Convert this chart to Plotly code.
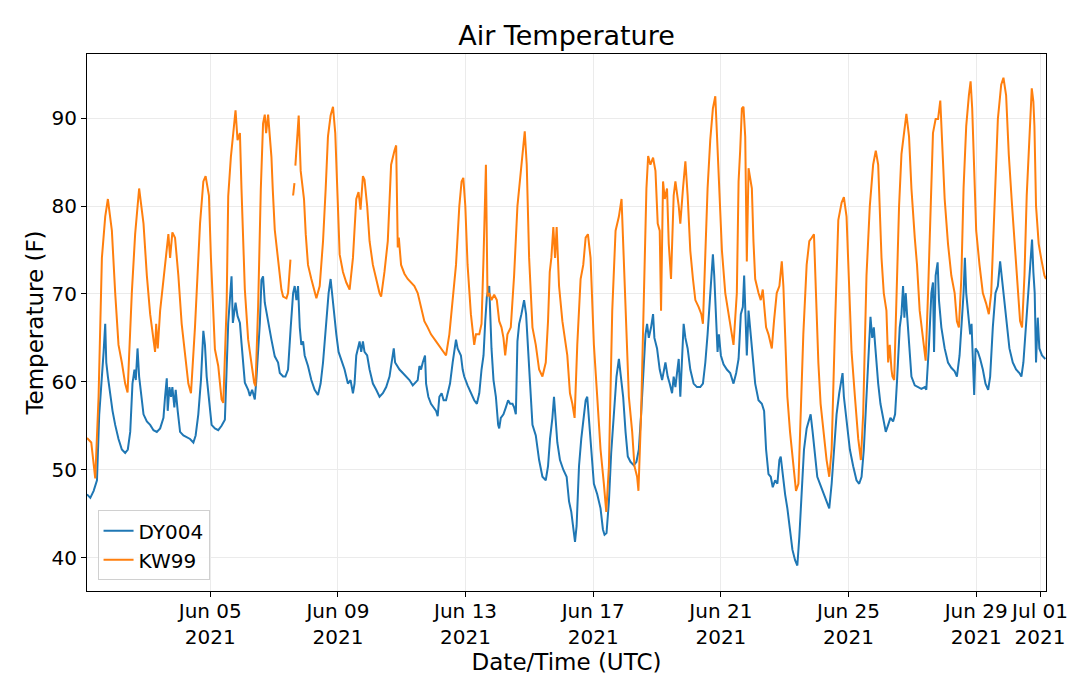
import pandas as pd
import plotly.graph_objects as go

# hours after 2021-06-01 00:00 UTC, temperature in F
dy004_hours = [
    3.3, 5.8, 8.3, 10.8, 12.5, 14.5, 15.8, 17, 17.8, 19, 20.8, 22.5, 24.5, 27, 29.5, 32, 34, 35.8, 37.5, 39,
    40, 41.3, 42.5, 44, 45.8, 48.3, 50.8, 53.3, 55.8, 58.3, 60.8, 62, 63.3, 64, 65.3, 66.5, 67.5, 69, 70, 71.5,
    73.3, 75.8, 78.3, 80.8, 83.3, 85, 87, 89, 90.8, 92, 93.3, 95, 97, 99.5, 102, 104.5, 107, 109.5, 112, 113,
    115, 116.5, 118.3, 119.5, 122, 124.5, 125.8, 127.5, 129.5, 130.5, 133.3, 134.5, 135.7, 137, 139.5, 142, 144.5, 147, 148.3, 150.8,
    152.5, 154.5, 156.5, 158.3, 159.5, 160.8, 162, 163.3, 164.5, 165.8, 167, 169.5, 172, 174.5, 177, 179, 180.8, 183.3, 185, 186.5,
    187.5, 189, 190.8, 192.5, 194.5, 197, 199.5, 201.5, 203.3, 204.5, 205.8, 207, 208.3, 209.5, 210.8, 212, 214, 215.8, 218.3, 220.8,
    223.3, 225.8, 228.3, 230.8, 232.5, 234, 235, 236.5, 238.3, 240.8, 243.3, 245.8, 248.3, 252, 253.3, 254.5, 255.8, 257.5, 258.3, 260,
    262, 264, 265.8, 267, 268.3, 270, 271.5, 273.3, 274.5, 276.3, 278.3, 279.5, 280.8, 282, 283.3, 284.5, 285.8, 287, 289.5, 292,
    294.5, 296.5, 298.3, 300, 301.5, 302.8, 304, 305.8, 306.5, 307.5, 309, 310.8, 312.5, 313.3, 314.5, 316.5, 318.3, 320, 321.5, 323.3,
    324.5, 325.8, 327, 328.3, 330, 332, 333.5, 335, 336.5, 338.3, 340.8, 343.3, 345.8, 348.3, 350, 351.5, 353.3, 354.5, 355.8, 357,
    359, 361.5, 364, 365.8, 367.5, 369, 370.3, 371.5, 373.3, 375, 377, 378.3, 379.5, 380.8, 382, 384.5, 387, 389.5, 391.3, 392.5,
    394, 395.8, 397.5, 399.5, 401.5, 403.3, 404.5, 406.5, 408.3, 410, 412, 414.5, 416.5, 418.3, 420, 422, 423.3, 424.5, 425.8, 427.5,
    429, 430, 432, 434, 435.8, 438.3, 440, 441.5, 443.3, 444.5, 445.8, 447, 448.3, 449.5, 450.8, 452, 453.3, 455, 457, 459.5,
    462, 464.5, 466.5, 468.3, 470, 471.5, 472.8, 474, 475, 476.5, 477.5, 478.5, 480, 482, 484.5, 487, 489.5, 491.5, 493.3, 495,
    496.5, 497.5, 498.5, 499.5, 500.8, 502, 504, 505.8, 508.3, 510.8, 512.5, 514, 515.8, 517.5, 519, 520.8, 522.5, 524, 525, 526.5,
    528.3, 530, 532, 533.8, 535.8, 537.5, 539, 540.8, 542.5, 544.5, 546.5, 547.5, 549, 550.8, 552.5, 554.5, 556.5, 558.3, 560, 561.5,
    563.3, 565, 567, 569, 570.5, 571.5, 572.5, 573.5, 575, 577, 579.5, 582, 584, 585.8, 587.5, 589.5, 591.5, 592.5, 593.8, 595,
    596, 597, 598.3, 600, 602, 604, 605.8, 607.5, 609.5, 611, 612.5, 614.5, 615.8, 617, 618, 619, 620, 621.5, 623.3, 625.8,
    628.3, 630.8, 633.3, 634.5, 636.5, 638.3, 639.5, 640.3, 641.5, 643, 644, 645.8, 648.3, 650.8, 653.3, 655.8, 657.5, 659.5, 661.5, 662.5,
    663.5, 664.5, 666, 667.5, 668.5, 669.5, 670.5, 671.5, 673.3, 675, 677, 679, 681, 682.5, 684.5, 686.5, 688.3, 690, 691.5, 693.3,
    695, 697, 699.5, 702, 704.5, 706, 707.5, 709.5, 711, 712.5, 714, 715, 716, 717, 718.3, 719.5, 721.5, 724,
]
dy004_temp = [
    47.2, 46.8, 47.6, 48.8, 56.3, 60.2, 63.4, 66.6, 62.2, 60.6, 58.3, 56.7, 55.1, 53.5, 52.3, 51.9, 52.3, 54.3, 59.8, 61.4,
    60.2, 63.8, 60.6, 58.3, 56.3, 55.5, 55.1, 54.5, 54.3, 54.7, 55.9, 58.3, 60.4, 56.7, 59.4, 58.3, 59.4, 57.1, 59.1, 56.7,
    54.3, 53.9, 53.7, 53.5, 53.1, 53.9, 56.3, 60.2, 65.8, 64.2, 60.6, 58.3, 55.1, 54.7, 54.5, 55.0, 55.7, 66.7, 72.0, 66.7,
    69.0, 67.5, 66.7, 64.4, 59.9, 59.1, 58.4, 59.1, 58.0, 59.9, 66.7, 71.6, 72.0, 69.0, 66.7, 64.8, 62.9, 62.2, 61.0, 60.6,
    60.6, 61.4, 66.2, 70.1, 70.9, 69.3, 70.9, 66.2, 64.2, 64.6, 63.0, 61.8, 60.2, 59.1, 58.5, 59.8, 62.2, 66.9, 70.1, 71.7,
    70.1, 67.7, 65.4, 63.4, 62.6, 61.4, 59.8, 60.2, 58.7, 59.8, 63.0, 63.8, 64.6, 63.4, 64.6, 63.4, 63.0, 61.4, 59.8, 59.1,
    58.3, 58.7, 59.4, 60.6, 62.6, 63.8, 62.2, 61.8, 61.4, 61.0, 60.6, 60.2, 59.6, 60.2, 61.8, 61.4, 62.2, 63.0, 59.8, 58.3,
    57.5, 57.1, 56.7, 56.1, 58.3, 58.7, 57.9, 57.9, 58.7, 59.8, 62.2, 63.8, 64.8, 63.8, 63.4, 63.0, 61.4, 60.6, 59.6, 58.7,
    57.9, 57.5, 58.7, 61.4, 63.0, 66.9, 69.7, 70.9, 67.7, 63.8, 60.2, 58.3, 55.1, 54.7, 55.9, 56.3, 57.1, 57.9, 57.5, 57.5,
    57.1, 56.3, 64.6, 66.6, 67.7, 69.3, 67.7, 64.2, 59.8, 55.1, 53.9, 51.1, 49.2, 48.8, 50.4, 53.5, 55.9, 58.3, 55.1, 53.1,
    51.1, 50.0, 49.2, 46.4, 45.2, 43.2, 41.8, 43.6, 50.4, 53.5, 56.3, 57.9, 58.3, 55.9, 52.7, 48.4, 47.2, 45.6, 43.2, 42.6,
    42.8, 46.4, 51.9, 56.3, 60.6, 62.6, 61.0, 58.3, 54.3, 51.5, 50.9, 50.5, 50.9, 52.3, 56.3, 62.2, 65.4, 66.6, 65.0, 66.2,
    67.7, 65.0, 63.8, 61.4, 60.2, 62.2, 60.6, 59.8, 58.7, 60.6, 59.4, 61.0, 62.6, 58.3, 63.0, 66.6, 65.0, 63.8, 61.4, 59.8,
    59.4, 59.4, 59.8, 62.2, 65.4, 68.5, 70.9, 74.5, 72.1, 67.0, 63.4, 65.4, 63.0, 62.0, 61.4, 61.0, 59.8, 61.0, 62.6, 67.7,
    68.5, 72.1, 67.0, 63.0, 68.1, 66.2, 62.2, 59.8, 57.9, 57.5, 56.7, 52.3, 49.5, 49.2, 48.0, 48.8, 48.4, 51.1, 51.5, 49.2,
    47.2, 45.6, 43.2, 40.9, 39.7, 39.1, 42.4, 48.4, 52.3, 54.7, 55.9, 56.3, 54.3, 51.5, 49.2, 48.4, 47.6, 46.8, 46.0, 45.6,
    48.4, 52.3, 56.3, 58.7, 60.2, 61.0, 58.3, 57.1, 55.1, 52.3, 50.4, 48.8, 48.4, 49.2, 52.3, 58.3, 64.2, 67.4, 65.0, 66.2,
    64.2, 62.2, 59.8, 57.5, 55.7, 54.3, 55.1, 55.9, 55.5, 56.3, 60.2, 66.2, 67.7, 70.9, 67.3, 70.1, 67.7, 63.8, 60.6, 59.6,
    59.4, 59.2, 59.4, 59.1, 64.2, 70.1, 71.3, 63.4, 72.1, 73.6, 69.3, 66.2, 63.8, 62.2, 61.6, 61.2, 60.6, 63.0, 67.7, 70.1,
    74.1, 70.1, 67.7, 65.4, 66.6, 63.4, 58.5, 63.8, 63.4, 62.6, 61.4, 59.8, 59.1, 60.6, 66.2, 70.1, 70.9, 73.7, 71.7, 69.3,
    66.9, 63.8, 62.2, 61.4, 61.0, 60.6, 62.2, 66.9, 70.1, 73.3, 76.2, 72.5, 70.1, 62.2, 67.3, 63.8, 63.0, 62.6,
]

# None marks the short gaps in the KW99 record on Jun 07
kw99_hours = [
    3.3, 6.5, 9.5, 12, 14.5, 17, 19, 22, 24.5, 27, 29.5, 32, 33.8, 37, 39.5, 42.5, 45.8, 48.3, 50.8, 53.3,
    54.5, 55.3, 56.5, 58.3, 62, 64.5, 65.8, 67.5, 69.5, 72, 74.5, 77, 79.5, 81.5, 84.5, 88.3, 90.8, 92.5, 95, 96.5,
    98.3, 99.5, 102, 104.5, 105.8, 108.3, 109.5, 111.5, 113.3, 115, 116.5, 118.3, 119.5, 120.7, 122, 124.5, 127, 129, 130, 132,
    134, 135.7, 137, 138, 139.5, 142, 143, 144.5, 147, 149.5, 150.8, 153.3, 154.5, 156.3, 157.3, 158.3, 159.3, 159.7, 160, 161,
    162.5, 164, 165, 166.5, 167.8, 169.5, 172, 174.5, 175.8, 178.3, 180.8, 182.8, 184.5, 186.5, 188.3, 190, 191.5, 193.3, 195.8, 198.3,
    200.8, 203.3, 205.8, 207.5, 209, 210.8, 212, 214, 215.8, 218.3, 220.8, 223.3, 224.5, 227, 229.5, 232, 234.5, 235.8, 237, 237.8,
    239.5, 242, 244.5, 249.5, 252, 254.5, 257, 259.5, 262, 265.8, 269.5, 273.3, 275.8, 278.3, 280.8, 283.3, 285, 286.3, 287.8, 289.5,
    292, 294.5, 295.8, 298.3, 300, 301.5, 303.3, 304.5, 305.8, 307.5, 309.5, 311.5, 313.3, 315, 316.5, 317.8, 319.5, 322, 324.5, 327,
    329.5, 331.5, 332.5, 334, 335.8, 338.3, 340.8, 343.3, 345.8, 348.3, 350, 351.3, 352.5, 354, 355.3, 356.5, 358.3, 360.8, 363.3, 364.5,
    366.5, 368.3, 370, 372, 374.5, 376.5, 378.3, 380, 382, 384.5, 387, 389.5, 392, 393.8, 395.8, 398.3, 400.8, 403.3, 405.3, 407,
    409, 410.8, 413.3, 415, 417, 418, 420, 422, 424, 425.3, 427, 429, 430.8, 432.5, 434, 435, 436.5, 437.8, 439.5, 440.8,
    442.5, 444.5, 445.8, 448.3, 449.5, 451.5, 453.3, 455, 457, 459, 460.8, 463.3, 465.3, 466.5, 468.3, 470, 472, 474, 475.8, 477,
    479, 480.8, 483.3, 485.8, 487, 489.5, 492, 493.3, 494.5, 495.8, 497, 498.3, 499.5, 500.8, 502, 503.3, 504.5, 505.8, 508.3, 510,
    511.5, 512.5, 514, 515.8, 518.3, 520, 522, 524, 525.8, 527, 528.3, 530, 532, 534.5, 536.5, 538.3, 540, 542, 544.5, 546.5,
    548.3, 550, 551.5, 553.3, 555, 557, 559.5, 561.5, 563.3, 565.8, 568.3, 570.8, 572.5, 574.5, 576.5, 578.3, 580.8, 583.3, 585.3, 587,
    589.5, 592, 594.5, 596.5, 598.3, 600.8, 602.5, 604.5, 605.8, 607, 608.3, 609, 610.3, 612, 614, 615.8, 617.5, 619.5, 621.5, 623.3,
    625.8, 627.5, 629.5, 631.5, 633.3, 634, 635.8, 637.8, 639.5, 641.5, 643.3, 645, 646.5, 648.3, 650.8, 653.3, 655.8, 657.5, 659, 660.8,
    662.5, 664.5, 666.5, 667.8, 669, 670, 672, 674.5, 677, 679.5, 681.5, 683.3, 685.8, 688.3, 690.8, 692.5, 694.5, 696.5, 699, 700.8,
    703.3, 705, 706.5, 708.3, 710, 712, 713.8, 715, 715.8, 717, 719, 720.8, 723.3, 724.5,
]
kw99_temp = [
    53.6, 53.1, 49.0, 58.3, 74.1, 78.8, 80.8, 77.2, 70.1, 64.2, 62.2, 59.8, 58.8, 70.1, 76.8, 82.0, 78.0, 72.1, 67.7, 64.6,
    63.4, 66.6, 63.8, 68.1, 72.9, 76.8, 74.1, 77.0, 76.4, 72.1, 66.6, 63.0, 59.8, 58.7, 66.2, 78.0, 82.8, 83.4, 81.2, 74.1,
    68.1, 63.7, 61.8, 58.0, 57.6, 68.6, 81.1, 85.6, 88.3, 90.9, 87.5, 88.3, 81.9, 76.2, 70.5, 64.8, 62.2, 59.9, 59.5, 68.6,
    81.9, 89.4, 90.4, 88.3, 90.4, 85.6, 81.9, 77.3, 73.9, 70.5, 69.7, 69.5, 70.1, 73.9, None, 81.2, 82.6, None, 84.6, 86.5,
    90.3, 84.0, 82.8, 80.8, 76.8, 73.3, 71.7, 70.1, 69.5, 70.9, 76.0, 82.0, 87.9, 90.3, 91.3, 88.3, 80.8, 74.5, 72.5, 71.3,
    70.5, 74.1, 80.8, 81.6, 79.6, 83.4, 83.0, 80.0, 76.0, 73.3, 71.7, 70.1, 69.7, 72.5, 76.0, 84.7, 86.3, 86.9, 75.3, 76.4,
    73.3, 72.3, 71.7, 70.9, 70.1, 68.5, 66.9, 66.2, 65.4, 64.6, 63.8, 63.0, 65.4, 69.3, 73.3, 80.0, 82.8, 83.2, 80.0, 73.3,
    67.7, 64.2, 65.4, 65.4, 66.6, 74.1, 84.7, 69.7, 70.1, 69.3, 69.9, 69.3, 66.9, 66.2, 65.0, 63.0, 65.4, 66.2, 72.1, 80.0,
    84.0, 86.7, 88.5, 84.7, 74.1, 66.2, 64.2, 61.4, 60.6, 62.2, 66.9, 72.5, 74.1, 77.6, 74.1, 77.6, 70.9, 66.9, 64.2, 63.0,
    58.7, 57.5, 55.9, 64.2, 71.7, 73.3, 76.4, 76.8, 74.1, 64.2, 58.3, 52.3, 48.4, 45.2, 50.4, 68.1, 77.2, 78.8, 80.8, 74.1,
    65.0, 58.3, 54.3, 50.4, 49.2, 47.6, 56.3, 70.1, 82.0, 85.7, 84.7, 85.5, 84.0, 78.0, 77.2, 68.1, 82.8, 80.8, 82.0, 75.7,
    71.7, 81.2, 82.8, 80.0, 78.0, 82.0, 85.1, 81.2, 74.9, 71.7, 69.3, 68.5, 67.7, 66.6, 74.1, 82.0, 87.5, 91.1, 92.5, 88.7,
    82.0, 74.9, 70.1, 67.7, 66.2, 64.2, 70.1, 82.8, 86.3, 91.1, 91.3, 87.9, 73.7, 84.3, 83.2, 82.0, 76.0, 71.7, 70.1, 69.3,
    70.5, 68.5, 66.2, 65.4, 63.8, 67.0, 70.1, 70.9, 73.7, 70.9, 66.2, 58.3, 54.3, 50.4, 47.6, 48.4, 56.3, 65.4, 73.3, 76.0,
    76.4, 76.8, 70.1, 62.2, 57.5, 54.3, 51.1, 49.2, 52.3, 66.2, 78.4, 80.4, 81.0, 78.8, 70.1, 63.4, 58.3, 53.5, 51.1, 56.3,
    72.1, 80.0, 84.7, 86.3, 84.7, 74.1, 70.1, 68.1, 62.2, 64.2, 61.4, 60.6, 60.2, 70.1, 80.0, 85.9, 88.3, 90.5, 87.9, 82.0,
    76.4, 73.3, 68.1, 65.4, 63.0, 62.4, 70.1, 81.2, 88.3, 89.9, 89.9, 92.0, 85.9, 80.8, 75.7, 72.1, 70.1, 66.9, 66.2, 71.7,
    82.0, 89.1, 92.6, 94.2, 91.1, 85.9, 77.2, 73.3, 70.1, 68.9, 67.7, 70.1, 80.0, 89.9, 93.8, 94.6, 92.6, 85.9, 80.0, 75.7,
    70.1, 66.9, 66.2, 72.1, 81.2, 88.7, 93.4, 91.9, 89.1, 80.0, 75.7, 74.1, 72.1, 71.7,
]

tick_dates = ["2021-06-05", "2021-06-09", "2021-06-13", "2021-06-17",
              "2021-06-21", "2021-06-25", "2021-06-29", "2021-07-01"]
tick_text = ["Jun 05<br>2021", "Jun 09<br>2021", "Jun 13<br>2021", "Jun 17<br>2021",
             "Jun 21<br>2021", "Jun 25<br>2021", "Jun 29<br>2021", "Jul 01<br>2021"]

start = pd.Timestamp("2021-06-01 00:00")


def to_times(hours):
    return start + pd.to_timedelta(hours, unit="h")


font = "DejaVu Sans"

fig = go.Figure()
fig.add_trace(go.Scatter(x=to_times(dy004_hours), y=dy004_temp, name="DY004", mode="lines",
                         line=dict(color="#1f77b4", width=2)))
fig.add_trace(go.Scatter(x=to_times(kw99_hours), y=kw99_temp, name="KW99", mode="lines",
                         line=dict(color="#ff7f0e", width=2), connectgaps=False))

axis_style = dict(showline=True, linecolor="black", linewidth=1, mirror=True,
                  ticks="outside", ticklen=5, tickcolor="black",
                  showgrid=True, gridcolor="#ebebeb", gridwidth=1, zeroline=False,
                  tickfont=dict(family=font, size=20, color="black"))

# the page body adds an 8px margin, so the figure is drawn 8px smaller
fig.update_layout(
    width=1072, height=675,
    margin=dict(l=79, r=24, t=46, b=92),
    paper_bgcolor="white", plot_bgcolor="white",
    font=dict(family=font, color="black"),
    title=dict(text="Air Temperature", x=0.5, xref="paper", y=1 - 28 / 675, yref="container",
               xanchor="center", yanchor="middle", font=dict(family=font, size=27, color="black")),
    legend=dict(x=0.011, y=0.02, xanchor="left", yanchor="bottom",
                bgcolor="rgba(255,255,255,0.8)", bordercolor="#d0d0d0", borderwidth=1,
                entrywidth=140, font=dict(family=font, size=20, color="black")),
    xaxis=dict(range=[to_times(3.3), to_times(724.5)], tickvals=pd.to_datetime(tick_dates),
               ticktext=tick_text, ticklabelstandoff=-3,
               title=dict(text="Date/Time (UTC)", font=dict(family=font, size=23), standoff=1),
               **axis_style),
    yaxis=dict(range=[36.2, 97.3], tickvals=[40, 50, 60, 70, 80, 90],
               title=dict(text="Temperature (F)", font=dict(family=font, size=23), standoff=1),
               **axis_style),
)

fig.write_html("out.html")
